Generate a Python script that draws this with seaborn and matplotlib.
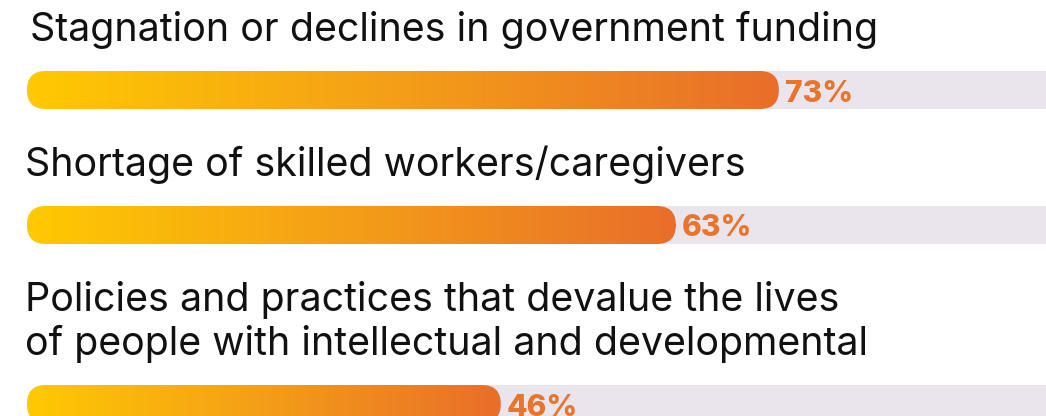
import numpy as np
import seaborn as sns
import matplotlib.pyplot as plt
from matplotlib.patches import FancyBboxPatch
from matplotlib.colors import LinearSegmentedColormap

# data
labels = [
    "Stagnation or declines in government funding",
    "Shortage of skilled workers/caregivers",
    "Policies and practices that devalue the lives\nof people with intellectual and developmental",
]
values = [73, 63, 46]

# colours
track_color = "#EAE4EC"
pct_color = "#E9742C"
grad = LinearSegmentedColormap.from_list("bar", ["#FFC902", "#F49E18", "#E96E2A"])

sns.set_theme(style="white")
plt.rcParams['font.family'] = ['Inter', 'DejaVu Sans']

W, H = 1046, 416
fig = plt.figure(figsize=(W / 100, H / 100), dpi=100)
ax = fig.add_axes([0, 0, 1, 1])

# layout in pixels: x axis in percent, y axis in pixels (top = 0)
px_per_pct = 10.3
left_px = 27
bar_h = 38
row_step = 135
line_h = 44

n_lines = [len(l.split("\n")) for l in labels]
centers = []
c = 90
for i, n in enumerate(n_lines):
    if i > 0:
        c += row_step + line_h * (n - 1)
    centers.append(c)

sns.barplot(x=values, y=centers, orient="y", native_scale=True,
            width=bar_h / np.diff(centers).min(), color="#F49E18", ax=ax)

xmin = -left_px / px_per_pct
xmax = (W - left_px) / px_per_pct
ax.set_xlim(xmin, xmax)
ax.set_ylim(H, 0)
ax.axis("off")

rad = (bar_h / 2) / px_per_pct
aspect = px_per_pct

bars = list(ax.patches)
for p in bars:
    x0, y0, w, h = p.get_x(), p.get_y(), p.get_width(), p.get_height()
    p.set_visible(False)
    # background track
    track = FancyBboxPatch((0, y0), xmax + 3, h,
                           boxstyle=f"round,pad=0,rounding_size={rad}",
                           mutation_aspect=aspect, fc=track_color, ec="none", zorder=1)
    ax.add_patch(track)
    # gradient bar clipped to a rounded shape
    shape = FancyBboxPatch((x0, y0), w, h,
                           boxstyle=f"round,pad=0,rounding_size={rad}",
                           mutation_aspect=aspect, fc="none", ec="none", zorder=2)
    ax.add_patch(shape)
    im = ax.imshow(np.linspace(0, 1, 256).reshape(1, -1), cmap=grad,
                   extent=[x0, x0 + w, y0 + h, y0], aspect="auto",
                   interpolation="bicubic", zorder=2)
    im.set_clip_path(shape)

ax.set_xlim(xmin, xmax)
ax.set_ylim(H, 0)

# fit font size to the label width seen in the picture
r = fig.canvas.get_renderer()
probe = fig.text(0, 0, labels[0], fontsize=20)
lab_size = 20 * 847 / probe.get_window_extent(r).width
probe.remove()

for i, (lab, v, cy) in enumerate(zip(labels, values, centers)):
    lines = lab.split("\n")
    top = cy - bar_h / 2
    indent = 0.3 if i == 0 else -0.2
    for k, line in enumerate(lines):
        base = top - 30 - line_h * (len(lines) - 1 - k)
        ax.text(indent, base, line, fontsize=lab_size, color="#111111",
                ha="left", va="baseline")
    ax.text(v + 0.6, cy + 11.5, f"{v}%", fontsize=21.5, fontweight=800,
            color=pct_color, ha="left", va="baseline")

fig.savefig("out.png", dpi=100)
